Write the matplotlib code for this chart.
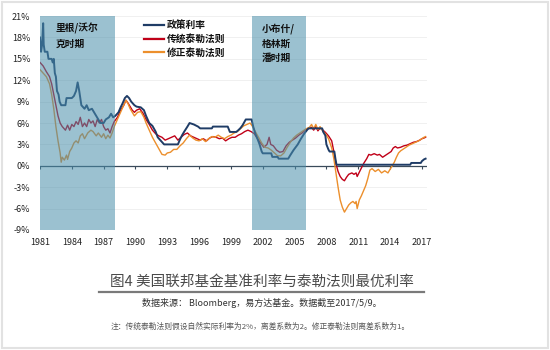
import numpy as np
import matplotlib
matplotlib.use("Agg")
import matplotlib.pyplot as plt
from matplotlib.patches import Rectangle

plt.rcParams['font.family'] = ['Noto Sans CJK SC', 'DejaVu Sans']

# policy rate (fed funds target), %
policy_t = [1981.0, 1981.1, 1981.2, 1981.3, 1981.35, 1981.45, 1981.7, 1981.8, 1982.1, 1982.2,
            1982.3, 1982.4, 1982.5, 1982.6, 1982.75, 1982.85, 1983.0, 1983.4, 1983.5, 1984.0,
            1984.2, 1984.4, 1984.55, 1984.7, 1984.8, 1984.9, 1985.2, 1985.4, 1985.6, 1985.9,
            1986.1, 1986.3, 1986.5, 1986.7, 1987.0, 1987.2, 1987.5, 1987.7, 1987.9, 1988.1,
            1988.4, 1988.6, 1988.8, 1989.0, 1989.2, 1989.4, 1989.6, 1989.9, 1990.1, 1990.5,
            1990.8, 1991.0, 1991.3, 1991.6, 1991.9, 1992.1, 1992.4, 1992.7, 1994.0, 1994.2,
            1994.4, 1994.6, 1994.9, 1995.1, 1995.5, 1995.9, 1996.1, 1997.2, 1997.3, 1998.7,
            1998.9, 1999.5, 1999.7, 1999.9, 2000.1, 2000.4, 2000.95, 2001.1, 2001.3, 2001.5,
            2001.7, 2001.9, 2002.0, 2002.8, 2002.9, 2003.4, 2003.5, 2004.4, 2004.6, 2004.9,
            2005.3, 2005.6, 2005.9, 2006.3, 2007.6, 2007.7, 2007.9, 2008.0, 2008.2, 2008.3,
            2008.75, 2008.85, 2008.95, 2015.9, 2016.0, 2016.9, 2017.0, 2017.2, 2017.35]
policy_v = [18.0, 16.0, 17.0, 20.0, 17.0, 16.0, 16.0, 15.0, 15.0, 14.5,
            15.0, 13.0, 12.5, 10.5, 10.0, 9.0, 8.5, 8.5, 9.5, 9.5,
            9.8, 10.5, 11.7, 10.5, 9.5, 8.5, 8.0, 8.5, 7.8, 8.0,
            7.5, 7.0, 6.5, 6.0, 6.0, 6.5, 6.8, 7.3, 6.8, 7.0,
            7.5, 8.2, 8.8, 9.5, 9.8, 9.5, 9.0, 8.5, 8.3, 8.2,
            7.8, 7.0, 6.0, 5.6, 4.8, 4.0, 3.5, 3.0, 3.0, 3.7,
            4.3, 4.8, 5.5, 6.0, 5.8, 5.5, 5.25, 5.25, 5.5, 5.5,
            4.75, 4.75, 5.0, 5.3, 5.7, 6.5, 6.5, 5.5, 4.5, 3.8,
            3.0, 2.0, 1.75, 1.75, 1.25, 1.25, 1.0, 1.0, 1.5, 2.2,
            3.0, 3.8, 4.5, 5.25, 5.25, 4.75, 4.25, 3.0, 2.25, 2.0,
            2.0, 1.0, 0.15, 0.15, 0.4, 0.4, 0.65, 0.9, 1.0]

# classic Taylor rule, %
taylor_t = [1981.0, 1981.3, 1981.6, 1981.9, 1982.1, 1982.3, 1982.5, 1982.7, 1982.9, 1983.1,
            1983.4, 1983.6, 1983.8, 1984.0, 1984.2, 1984.4, 1984.6, 1984.8, 1985.0, 1985.2,
            1985.4, 1985.6, 1985.8, 1986.0, 1986.2, 1986.4, 1986.6, 1986.8, 1987.0, 1987.2,
            1987.4, 1987.6, 1987.8, 1988.0, 1988.3, 1988.6, 1988.9, 1989.1, 1989.3, 1989.5,
            1989.7, 1989.9, 1990.1, 1990.4, 1990.7, 1991.0, 1991.3, 1991.6, 1991.9, 1992.2,
            1992.5, 1992.8, 1993.1, 1993.4, 1993.7, 1994.0, 1994.3, 1994.6, 1994.9, 1995.2,
            1995.5, 1995.8, 1996.1, 1996.4, 1996.7, 1997.0, 1997.3, 1997.6, 1997.9, 1998.2,
            1998.5, 1998.8, 1999.1, 1999.4, 1999.7, 2000.0, 2000.3, 2000.6, 2000.9, 2001.2,
            2001.5, 2001.8, 2002.1, 2002.4, 2002.6, 2002.75, 2003.0, 2003.3, 2003.6, 2003.9,
            2004.2, 2004.5, 2004.8, 2005.1, 2005.4, 2005.7, 2006.0, 2006.3, 2006.6, 2006.8,
            2007.0, 2007.2, 2007.4, 2007.6, 2007.9, 2008.2, 2008.5, 2008.7, 2008.9, 2009.1,
            2009.3, 2009.5, 2009.7, 2009.9, 2010.1, 2010.4, 2010.6, 2010.8, 2010.9, 2011.1,
            2011.3, 2011.5, 2011.8, 2012.0, 2012.2, 2012.5, 2012.8, 2013.0, 2013.3, 2013.6,
            2013.9, 2014.1, 2014.3, 2014.5, 2014.7, 2015.0, 2015.3, 2015.6, 2015.9, 2016.2,
            2016.5, 2016.8, 2017.0, 2017.2, 2017.35]
taylor_v = [14.5, 14.0, 13.2, 12.5, 11.5, 10.0, 8.5, 7.0, 6.0, 5.5,
            5.0, 5.7, 5.0, 5.8, 5.5, 6.2, 5.8, 6.8, 5.5, 6.0,
            5.5, 6.5, 6.0, 6.3, 5.5, 6.5, 6.0, 6.5, 5.5, 5.0,
            5.2, 4.6, 5.5, 6.2, 6.8, 7.8, 8.5, 9.2, 8.8, 8.3,
            7.8, 7.5, 7.8, 8.0, 7.4, 6.5, 5.8, 5.0, 4.5, 4.2,
            4.0, 3.6, 3.8, 4.0, 4.2, 3.6, 4.0, 4.4, 4.6, 4.2,
            4.0, 3.8, 3.6, 3.8, 3.5, 3.9, 4.1, 4.0, 3.8, 3.9,
            3.5, 3.8, 4.0, 4.0, 4.3, 4.5, 4.8, 5.0, 4.8, 4.5,
            3.8, 3.2, 2.6, 3.0, 4.0, 3.0, 2.8, 2.2, 1.9, 2.0,
            2.8, 3.3, 3.6, 3.9, 4.3, 4.6, 5.0, 5.2, 5.4, 5.0,
            5.5, 4.9, 5.3, 5.1, 4.7, 4.2, 3.5, 2.0, 0.3, -0.8,
            -1.5, -1.9, -2.1, -1.6, -1.2, -1.0, -1.2, -1.0, -1.5, -0.9,
            -0.3, 0.3, 1.0, 1.6, 1.5, 1.7, 1.5, 1.6, 1.2, 1.5,
            1.8, 2.0, 2.5, 2.7, 2.5, 2.6, 2.8, 2.9, 3.1, 3.3,
            3.4, 3.6, 3.8, 3.9, 4.0]

# modified Taylor rule, %
modified_t = [1981.0, 1981.3, 1981.6, 1981.9, 1982.1, 1982.3, 1982.5, 1982.7, 1982.9, 1983.0,
              1983.1, 1983.3, 1983.5, 1983.6, 1983.8, 1984.0, 1984.2, 1984.4, 1984.6, 1984.8,
              1985.0, 1985.2, 1985.5, 1985.8, 1986.0, 1986.3, 1986.5, 1986.8, 1987.0, 1987.2,
              1987.4, 1987.6, 1987.8, 1988.0, 1988.3, 1988.6, 1988.9, 1989.1, 1989.3, 1989.5,
              1989.7, 1989.9, 1990.2, 1990.5, 1990.8, 1991.0, 1991.3, 1991.6, 1991.9, 1992.2,
              1992.5, 1992.8, 1993.0, 1993.3, 1993.6, 1993.9, 1994.2, 1994.5, 1994.8, 1995.1,
              1995.4, 1995.7, 1996.0, 1996.3, 1996.6, 1996.9, 1997.2, 1997.5, 1997.8, 1998.1,
              1998.4, 1998.7, 1999.0, 1999.3, 1999.6, 1999.9, 2000.2, 2000.5, 2000.8, 2001.0,
              2001.3, 2001.6, 2001.9, 2002.2, 2002.5, 2002.8, 2003.1, 2003.4, 2003.7, 2004.0,
              2004.3, 2004.6, 2004.9, 2005.2, 2005.5, 2005.8, 2006.1, 2006.4, 2006.6, 2006.8,
              2007.0, 2007.2, 2007.4, 2007.6, 2007.9, 2008.2, 2008.5, 2008.7, 2008.9, 2009.1,
              2009.3, 2009.5, 2009.7, 2009.9, 2010.1, 2010.3, 2010.5, 2010.7, 2010.8, 2010.9,
              2011.1, 2011.3, 2011.5, 2011.7, 2011.9, 2012.1, 2012.3, 2012.6, 2012.9, 2013.2,
              2013.5, 2013.8, 2014.0, 2014.2, 2014.4, 2014.6, 2014.8, 2015.0, 2015.2, 2015.5,
              2015.8, 2016.1, 2016.4, 2016.7, 2017.0, 2017.2, 2017.35]
modified_v = [13.5, 13.0, 12.5, 11.5, 10.0, 8.0, 5.5, 3.5, 1.8, 0.5,
              1.2, 0.8, 1.5, 0.9, 2.0, 2.5, 3.2, 3.5, 3.2, 4.2,
              4.5, 3.8, 4.6, 5.0, 4.8, 4.2, 4.6, 4.0, 4.5, 3.8,
              4.3, 3.9, 4.6, 5.5, 6.5, 7.5, 8.5, 9.2, 8.7, 8.0,
              7.5, 7.0, 7.5, 7.6, 6.8, 6.0, 5.0, 4.0, 3.2, 2.4,
              1.6, 1.5, 1.8, 1.9, 2.3, 2.3, 2.8, 3.2, 3.8, 4.3,
              3.9, 3.6, 3.5, 3.8, 3.4, 3.8, 4.1, 4.0, 4.3, 4.0,
              3.8, 4.1, 4.3, 4.6, 4.8, 5.2, 5.6, 5.8, 6.0, 5.6,
              4.8, 4.0, 3.2, 2.6, 2.5, 2.2, 1.8, 1.4, 1.4, 1.8,
              2.6, 3.3, 3.9, 4.3, 4.6, 4.9, 5.2, 5.4, 5.8, 5.2,
              5.8, 5.1, 5.5, 5.0, 4.5, 3.8, 2.5, 1.0, -1.0, -3.0,
              -4.8, -5.8, -6.5, -6.0, -5.5, -5.2, -5.0, -5.3, -5.0, -6.0,
              -4.8, -4.2, -3.5, -2.8, -1.8, -0.6, -0.4, -0.8, -0.5, -1.0,
              -0.7, -1.0, -0.5, 0.0, 0.5, 1.2, 1.8, 2.1, 2.3, 2.6,
              2.9, 3.1, 3.3, 3.5, 3.8, 4.0, 4.1]

series_names = ['政策利率', '传统泰勒法则', '修正泰勒法则']
series_colors = ['#1f3c66', '#c00018', '#ec8f2c']

eras = [(1981.0, 1988.1), (2001.0, 2006.1)]
era_labels = ['里根/沃尔\n克时期', '小布什/\n格林斯\n潘时期']

year_ticks = list(range(1981, 2018, 3))
pct_ticks = list(range(-9, 22, 3))

fig = plt.figure(figsize=(5.5, 3.5), dpi=100)
ax = fig.add_axes([0.0727, 0.343, 0.704, 0.611])

ax.set_xlim(1981, 2017.5)
ax.set_ylim(-9, 21)

for y in pct_ticks:
    ax.axhline(y, color='#eeeeee', lw=0.6, zorder=0)

ax.plot(policy_t, policy_v, color=series_colors[0], lw=1.4, zorder=3)
ax.plot(taylor_t, taylor_v, color=series_colors[1], lw=1.0, zorder=2)
ax.plot(modified_t, modified_v, color=series_colors[2], lw=1.0, zorder=2)

# zero line with small year ticks
ax.axhline(0, color='#3a4a5a', lw=0.9, zorder=1)
ax.vlines(year_ticks, -0.45, 0, color='#3a4a5a', lw=0.8, zorder=1)

# shaded eras drawn over the lines
for (a, b), lab in zip(eras, era_labels):
    ax.axvspan(a, b, color='#498eaa', alpha=0.55, lw=0, zorder=4)
    ax.text(a + (1.5 if a < 1990 else 0.9), 20.0, lab, fontsize=7, fontweight='bold',
            color='#111111', va='top', ha='left', linespacing=1.55, zorder=5)

# legend
leg_x0, leg_x1 = 1990.8, 1992.7
for i, (name, col) in enumerate(zip(series_names, series_colors)):
    yy = 19.8 - i * 1.95
    ax.plot([leg_x0, leg_x1], [yy, yy], color=col, lw=1.6, zorder=6)
    ax.text(leg_x1 + 0.3, yy, name, fontsize=7, fontweight='bold', color='#111111',
            va='center', ha='left', zorder=6)

ax.set_xticks(year_ticks)
ax.set_xticklabels([str(y) for y in year_ticks])
ax.set_yticks(pct_ticks)
ax.set_yticklabels([f'{v}%' for v in pct_ticks])
ax.tick_params(axis='both', length=0, labelsize=6.5, colors='#222222')
ax.tick_params(axis='x', pad=6)
ax.tick_params(axis='y', pad=7)
for sp in ax.spines.values():
    sp.set_visible(False)

fig.text(0.476, 0.195, '图4 美国联邦基金基准利率与泰勒法则最优利率', fontsize=10.5,
         color='#4a4a4a', ha='center', va='center')
fig.add_artist(plt.Line2D([0.18, 0.77], [0.166, 0.166], color='#7a7a7a', lw=1.6))
fig.text(0.476, 0.133, '数据来源： Bloomberg，易方达基金。数据截至2017/5/9。', fontsize=6.5,
         color='#333333', ha='center', va='center')
fig.text(0.473, 0.066, '注：传统泰勒法则假设自然实际利率为2%，离差系数为2。修正泰勒法则离差系数为1。',
         fontsize=5.6, color='#555555', ha='center', va='center')

# light frame around the whole figure
fig.add_artist(Rectangle((0.003, 0.005), 0.994, 0.99, transform=fig.transFigure,
                         fill=False, edgecolor='#e2e2e2', lw=1.5))

fig.savefig('out.png', dpi=100)
